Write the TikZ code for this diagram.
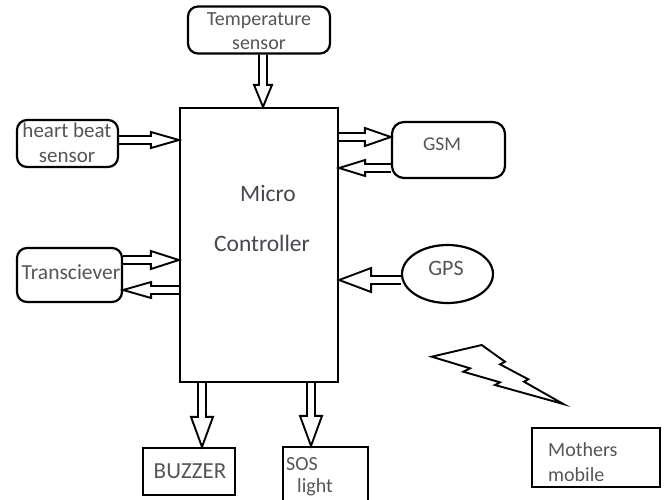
\documentclass[tikz,border=0pt]{standalone}
\usepackage{fontspec}
\setmainfont{Carlito}
\usetikzlibrary{calc,shapes.geometric}
\definecolor{txt}{RGB}{85,85,85}
\definecolor{mctxt}{RGB}{70,70,80}
\newcommand\harrow[4]{%
 \draw[harrowline] let \p1=(#1), \p2=(#2), \p3=($(\p2)!#3!(\p1)$) in
  ($(\p1)!4pt!90:(\p2)$) -- ($(\p3)!4pt!90:(\p2)$) -- ($(\p3)!#4!90:(\p2)$) -- (\p2)
  -- ($(\p3)!#4!-90:(\p2)$) -- ($(\p3)!4pt!-90:(\p2)$) -- ($(\p1)!4pt!-90:(\p2)$);}
\begin{document}
\begin{tikzpicture}[x=1pt,y=-1pt,
  box/.style={draw=black, line width=2.2pt, inner sep=0pt},
  rbox/.style={box, rounded corners=10pt},
  lbl/.style={text=txt, font=\fontsize{20}{24}\selectfont, inner sep=0pt, align=center},
  harrowline/.style={draw=black, line width=1.9pt, line join=miter}]
\useasboundingbox (0,0) rectangle (669,499);
\clip (0,0) rectangle (669,499);
% boxes
\node[rbox, minimum width=142pt, minimum height=47pt] (temp) at (259,30) {};
\node[rbox, minimum width=101pt, minimum height=47pt] (hb) at (67.5,143.5) {};
\node[rbox, minimum width=113pt, minimum height=56pt, rounded corners=12pt] (gsm) at (448.5,150) {};
\node[rbox, minimum width=105pt, minimum height=54pt] (tr) at (69.5,275) {};
\node[box, ellipse, minimum width=91pt, minimum height=58pt] (gps) at (447.5,274) {};
\node[box, minimum width=158pt, minimum height=274pt] (mc) at (259,245) {};
\node[box, minimum width=92pt, minimum height=47pt] (buz) at (189,471.5) {};
\node[box, minimum width=85pt, minimum height=63pt] (sos) at (325.5,478.5) {};
\node[box, minimum width=128pt, minimum height=59pt] (mom) at (596,457.5) {};
% labels
\node[lbl] (tempt) at (259,31) {Temperature\\sensor};
\node[lbl, font=\fontsize{21}{25}\selectfont] (hbt) at (67,143) {heart beat\\sensor};
\node[lbl, font=\fontsize{19.5}{23}\selectfont] (gsmt) at (442,144) {GSM};
\node[lbl, font=\fontsize{21.5}{25}\selectfont] (trt) at (71,272) {Transciever};
\node[lbl, font=\fontsize{22}{26}\selectfont] (gpst) at (446,268) {GPS};
\node[lbl, text=mctxt, font=\fontsize{23.5}{28}\selectfont] (mct1) at (268,193) {Micro};
\node[lbl, text=mctxt, font=\fontsize{23.5}{28}\selectfont] (mct2) at (262,243) {Controller};
\node[lbl, font=\fontsize{23}{27}\selectfont] (buzt) at (190,471) {BUZZER};
\node[lbl, anchor=west] (sost1) at (286,464) {SOS};
\node[lbl, anchor=west] (sost2) at (297,487) {light};
\node[lbl, anchor=west, align=left, font=\fontsize{20}{25}\selectfont] (momt) at (548,462) {Mothers\\mobile};
% arrows
\harrow{temp.south -| 263,0}{mc.north -| 263,0}{22pt}{9pt}
\harrow{hb.east |- 0,140}{mc.west |- 0,140}{28pt}{8pt}
\harrow{mc.east |- 0,137}{gsm.west |- 0,137}{26pt}{9pt}
\harrow{gsm.west |- 0,168}{mc.east |- 0,168}{26pt}{8pt}
\harrow{tr.east |- 0,260}{mc.west |- 0,260}{28pt}{9pt}
\harrow{mc.west |- 0,290}{tr.east |- 0,290}{28pt}{8pt}
\harrow{gps.west |- 0,280}{mc.east |- 0,280}{32pt}{12pt}
\harrow{mc.south -| 202,0}{buz.north -| 202,0}{30pt}{11pt}
\harrow{mc.south -| 311,0}{sos.north -| 311,0}{30pt}{11pt}
% lightning
\draw[line width=1.9pt, line join=miter]
 (431.7,356.7) -- (481.7,345) -- (505,361.7) -- (500,364.3) -- (528.3,379.3)
 -- (524,381.7) -- (563.3,404) -- (495,385) -- (500,382.3) -- (463.3,371.7)
 -- (470,368.3) -- cycle;
\end{tikzpicture}
\end{document}
